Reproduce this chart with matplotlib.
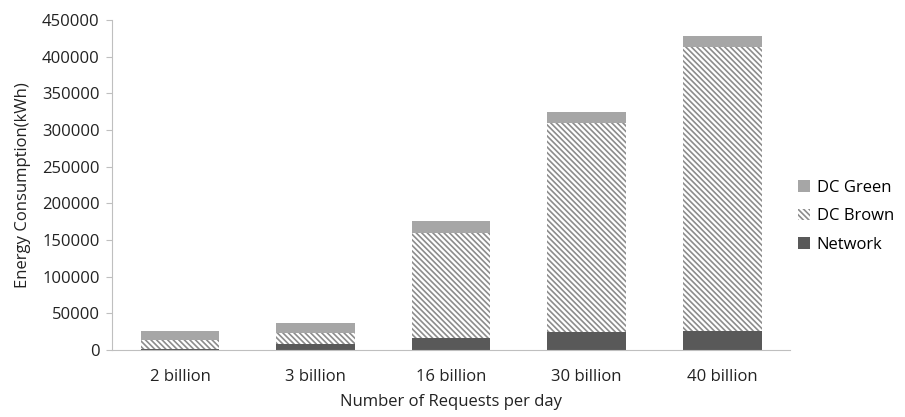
import numpy as np
import matplotlib.pyplot as plt

plt.rcParams['font.family'] = ['Open Sans', 'DejaVu Sans']
plt.rcParams['hatch.linewidth'] = 1.2

categories = ["2 billion", "3 billion", "16 billion", "30 billion", "40 billion"]
network = [1500, 7500, 16000, 24000, 26000]
dc_brown = [12000, 16000, 143000, 286000, 387000]
dc_green = [12500, 13000, 16500, 15000, 15000]

network = np.array(network, float)
dc_brown = np.array(dc_brown, float)
dc_green = np.array(dc_green, float)

fig = plt.figure(figsize=(9.05, 4.17), dpi=100)
ax = fig.add_axes([0.124, 0.161, 0.749, 0.791])

x = np.arange(len(categories))
w = 0.58
b1 = ax.bar(x, network, w, color='#595959', linewidth=0, label='Network')
b2 = ax.bar(x, dc_brown, w, bottom=network, color='white', edgecolor='#8c8c8c',
            hatch='\\' * 6, linewidth=0, label='DC Brown')
b3 = ax.bar(x, dc_green, w, bottom=network + dc_brown, color='#a6a6a6',
            linewidth=0, label='DC Green')

ax.set_ylim(0, 450000)
ax.set_xlim(-0.5, len(categories) - 0.5)
ax.set_yticks(np.arange(0, 450001, 50000))
ax.set_xticks(x)
ax.set_xticklabels(categories)
ax.tick_params(axis='y', length=4, color='#bfbfbf', labelsize=12, pad=5, labelcolor='#222222')
ax.tick_params(axis='x', length=0, labelsize=12, pad=14, labelcolor='#222222')

for s in ['top', 'right']:
    ax.spines[s].set_visible(False)
for s in ['left', 'bottom']:
    ax.spines[s].set_color('#bfbfbf')

ax.set_ylabel("Energy Consumption(kWh)", fontsize=12, color='#222222', labelpad=8)
ax.set_xlabel("Number of Requests per day", fontsize=12, color='#222222', labelpad=6)

ax.legend(handles=[b3, b2, b1], loc='center left', bbox_to_anchor=(0.99, 0.405),
          frameon=False, fontsize=12, handlelength=0.7, handleheight=0.7,
          handletextpad=0.4, labelspacing=0.75)

fig.savefig('out.png', dpi=100)
